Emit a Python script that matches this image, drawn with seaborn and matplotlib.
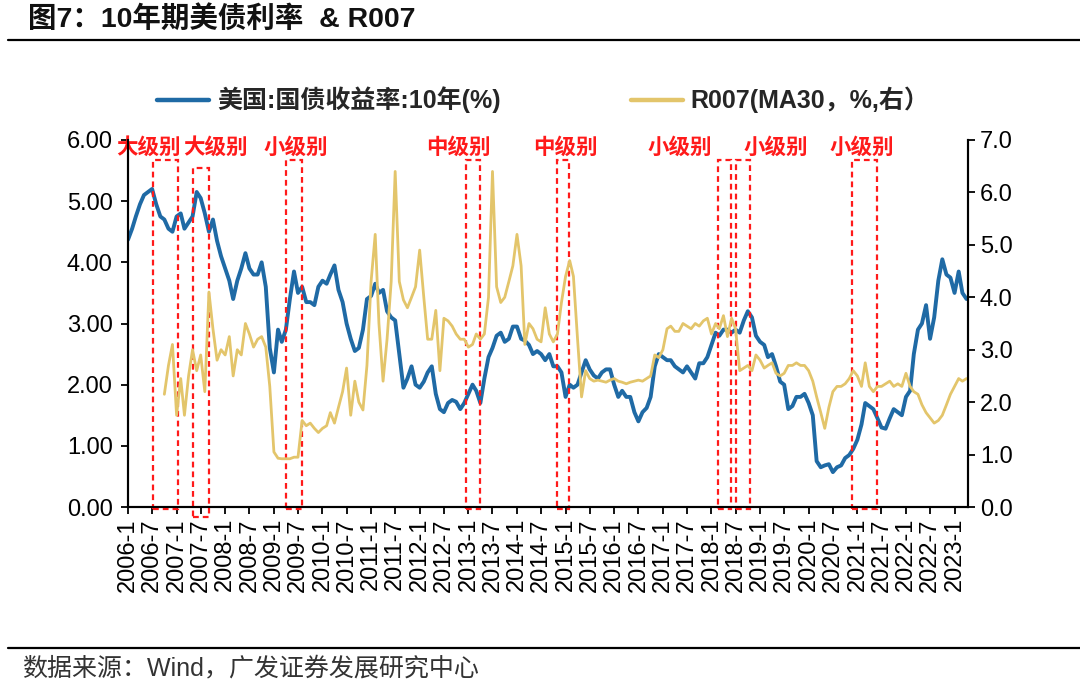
import numpy as np
import pandas as pd
import matplotlib
matplotlib.use("Agg")
import matplotlib.pyplot as plt
import matplotlib.dates as mdates
from matplotlib.patches import Rectangle
from matplotlib.lines import Line2D
import seaborn as sns

# ---------------- data (monthly readings) ----------------
us10y = [
    4.37, 4.55, 4.75, 4.95, 5.10, 5.15, 5.20, 4.95, 4.75, 4.70, 4.55, 4.50,  # 2006
    4.75, 4.80, 4.55, 4.65, 4.75, 5.15, 5.05, 4.80, 4.50, 4.70, 4.35, 4.10,  # 2007
    3.90, 3.70, 3.40, 3.70, 3.90, 4.15, 3.90, 3.80, 3.80, 4.00, 3.60, 2.60,  # 2008
    2.20, 2.90, 2.70, 2.90, 3.40, 3.85, 3.50, 3.60, 3.35, 3.35, 3.30, 3.60,  # 2009
    3.70, 3.65, 3.80, 3.95, 3.55, 3.35, 3.00, 2.75, 2.55, 2.60, 2.90, 3.40,  # 2010
    3.45, 3.65, 3.50, 3.55, 3.20, 3.10, 3.05, 2.50, 1.95, 2.10, 2.30, 2.00,  # 2011
    1.95, 2.05, 2.20, 2.30, 1.85, 1.60, 1.55, 1.70, 1.75, 1.72, 1.60, 1.70,  # 2012
    1.85, 2.00, 1.90, 1.70, 2.10, 2.45, 2.60, 2.80, 2.85, 2.70, 2.75, 2.95,  # 2013
    2.95, 2.75, 2.72, 2.65, 2.50, 2.55, 2.50, 2.40, 2.50, 2.30, 2.30, 2.20,  # 2014
    1.80, 2.00, 1.95, 2.00, 2.20, 2.40, 2.25, 2.15, 2.10, 2.20, 2.25, 2.25,  # 2015
    2.00, 1.80, 1.90, 1.80, 1.80, 1.55, 1.40, 1.55, 1.62, 1.80, 2.30, 2.50,  # 2016
    2.45, 2.40, 2.40, 2.30, 2.25, 2.20, 2.30, 2.20, 2.10, 2.35, 2.35, 2.45,  # 2017
    2.65, 2.85, 2.80, 2.90, 2.90, 2.85, 2.90, 2.85, 3.05, 3.20, 3.10, 2.80,  # 2018
    2.70, 2.65, 2.45, 2.50, 2.30, 2.05, 2.00, 1.60, 1.65, 1.80, 1.80, 1.85,  # 2019
    1.70, 1.50, 0.75, 0.65, 0.68, 0.70, 0.57, 0.65, 0.68, 0.80, 0.85, 0.95,  # 2020
    1.10, 1.35, 1.70, 1.65, 1.60, 1.45, 1.30, 1.28, 1.45, 1.60, 1.55, 1.50,  # 2021
    1.80, 1.90, 2.50, 2.90, 3.00, 3.30, 2.75, 3.10, 3.70, 4.05, 3.80, 3.75,  # 2022
    3.50, 3.85, 3.50, 3.40,                                                  # 2023
]
r007 = [
    2.15, 2.70, 3.10,                                                        # 2006 Q4
    1.75, 2.45, 1.75, 2.50, 3.00, 2.60, 2.90, 2.20, 4.10, 3.40, 2.80, 3.00,  # 2007
    2.90, 3.25, 2.50, 3.00, 2.90, 3.50, 3.30, 3.05, 3.20, 3.25, 3.05, 2.30,  # 2008
    1.05, 0.93, 0.92, 0.92, 0.92, 0.95, 0.95, 1.65, 1.55, 1.60, 1.50, 1.42,  # 2009
    1.50, 1.55, 1.80, 1.60, 1.90, 2.20, 2.65, 1.75, 2.40, 2.00, 1.85, 2.70,  # 2010
    4.30, 5.20, 3.50, 2.40, 3.20, 4.30, 6.40, 4.30, 3.95, 3.80, 4.00, 4.20,  # 2011
    4.90, 4.00, 3.20, 3.20, 3.75, 2.60, 3.60, 3.55, 3.45, 3.30, 3.20, 3.20,  # 2012
    3.05, 3.10, 3.30, 3.20, 3.30, 4.00, 6.40, 4.20, 3.90, 4.00, 4.30, 4.60,  # 2013
    5.20, 4.60, 3.10, 3.50, 3.40, 3.20, 3.15, 3.80, 3.30, 3.15, 3.30, 3.90,  # 2014
    4.40, 4.70, 4.40, 3.20, 2.10, 2.60, 2.45, 2.40, 2.42, 2.40, 2.38, 2.42,  # 2015
    2.45, 2.40, 2.38, 2.35, 2.38, 2.40, 2.42, 2.40, 2.45, 2.50, 2.90, 2.85,  # 2016
    3.00, 3.40, 3.45, 3.35, 3.35, 3.50, 3.45, 3.40, 3.50, 3.45, 3.55, 3.60,  # 2017
    3.30, 3.50, 3.40, 3.65, 3.25, 3.60, 3.40, 2.60, 2.65, 2.70, 2.60, 2.90,  # 2018
    2.80, 2.65, 2.70, 2.75, 2.55, 2.50, 2.55, 2.70, 2.70, 2.75, 2.70, 2.70,  # 2019
    2.60, 2.40, 2.10, 1.80, 1.50, 1.90, 2.20, 2.30, 2.30, 2.35, 2.45, 2.60,  # 2020
    2.50, 2.30, 2.75, 2.30, 2.20, 2.30, 2.30, 2.35, 2.40, 2.30, 2.35, 2.30,  # 2021
    2.55, 2.30, 2.20, 2.15, 1.95, 1.80, 1.70, 1.60, 1.65, 1.75, 1.95, 2.15,  # 2022
    2.30, 2.45, 2.40, 2.45,                                                  # 2023
]
us_start = "2006-01-01"
r_start = "2006-10-01"

box_labels = ["大级别", "大级别", "小级别", "中级别", "中级别", "小级别", "小级别", "小级别"]
box_starts = ["2006-07-07", "2007-05-01", "2009-04-01", "2012-12-15",
              "2014-10-28", "2018-02-21", "2018-07-03", "2020-11-25"]
box_ends = ["2007-01-10", "2007-09-01", "2009-08-01", "2013-03-28",
            "2015-01-28", "2018-05-28", "2018-10-18", "2021-06-01"]
label_dates = ["2006-06-01", "2007-10-20", "2009-06-15", "2012-10-20",
               "2014-12-28", "2017-05-10", "2019-05-01", "2021-02-01"]

legend_us = "美国:国债收益率:10年(%)"
legend_r = "R007(MA30，%,右）"
title = "图7：10年期美债利率  & R007"
source = "数据来源：Wind，广发证券发展研究中心"

# ---------------- build frames ----------------
df_us = pd.DataFrame({"date": pd.date_range(us_start, periods=len(us10y), freq="MS"),
                      "value": us10y})
df_r = pd.DataFrame({"date": pd.date_range(r_start, periods=len(r007), freq="MS"),
                     "value": r007})

sns.set_theme(style="white")
plt.rcParams["font.family"] = ["Liberation Sans", "Noto Sans CJK SC", "DejaVu Sans"]
plt.rcParams["axes.unicode_minus"] = False

BLUE = "#1F6AA5"
GOLD = "#E3C56B"
RED = "#FF1A1A"

fig = plt.figure(figsize=(10.8, 6.9), dpi=100)
ax = fig.add_axes([128 / 1080, 1 - 507 / 690, (968 - 128) / 1080, (507 - 140) / 690])
ax2 = ax.twinx()

sns.lineplot(data=df_us, x="date", y="value", ax=ax, color=BLUE, lw=2.8, legend=False)
sns.lineplot(data=df_r, x="date", y="value", ax=ax2, color=GOLD, lw=2.0, legend=False)

ax.set_ylim(0, 6)
ax2.set_ylim(0, 7)
ax.set_yticks(np.arange(0, 7, 1))
ax2.set_yticks(np.arange(0, 8, 1))
ax.set_yticklabels([f"{v:.2f}" for v in np.arange(0, 7, 1)])
ax2.set_yticklabels([f"{v:.1f}" for v in np.arange(0, 8, 1)])

xmin = pd.Timestamp("2006-01-01")
xmax = pd.Timestamp("2023-04-12")
ax.set_xlim(xmin, xmax)
ticks = pd.date_range("2006-01-01", "2023-01-01", freq="6MS")
ax.set_xticks(ticks)
ax.set_xticklabels([f"{d.year}-{d.month}" for d in ticks], rotation=90)
ax.set_xlabel("")
ax.set_ylabel("")
ax2.set_ylabel("")

for a in (ax, ax2):
    for s in a.spines.values():
        s.set_color("black")
        s.set_linewidth(1.5)
    a.spines["top"].set_visible(False)
    a.grid(False)
ax.tick_params(axis="both", direction="out", length=5, width=1.3, colors="black", labelsize=17,
               left=True, bottom=True)
ax2.tick_params(axis="y", direction="out", length=5, width=1.3, colors="black", labelsize=17, right=True)
ax.tick_params(axis="x", pad=3)
ax.tick_params(axis="y", pad=6)

# red dashed boxes
for i, (s, e) in enumerate(zip(box_starts, box_ends)):
    x0 = mdates.date2num(pd.Timestamp(s))
    x1 = mdates.date2num(pd.Timestamp(e))
    bottom = -0.17 if i == 1 else -0.03
    top = 5.55 if i == 1 else 5.67
    rect = Rectangle((x0, bottom), x1 - x0, top - bottom, fill=False, ec=RED, lw=1.6,
                     ls=(0, (2.6, 1.8)), clip_on=False, zorder=5)
    ax.add_patch(rect)
for lab, d in zip(box_labels, label_dates):
    ax.text(mdates.date2num(pd.Timestamp(d)), 5.88, lab, color=RED, fontsize=15.5,
            fontweight="bold", ha="center", va="center", clip_on=False, zorder=6,
            family=["Noto Sans CJK SC", "DejaVu Sans"])

# legend
h1 = Line2D([], [], color=BLUE, lw=3.2)
h2 = Line2D([], [], color=GOLD, lw=3.2)
fig.legend([h1, h2], [legend_us, legend_r], loc="center", bbox_to_anchor=(0.503, 1 - 100 / 690),
           ncol=2, frameon=False, handlelength=2.1, handletextpad=0.3, columnspacing=5.2,
           prop={"size": 18, "weight": "bold", "family": ["Liberation Sans", "Noto Sans CJK SC"]})

# title & source with rules
fig.text(0.026, 1 - 19 / 690, title, fontsize=20.5, fontweight="bold", va="center", ha="left",
         color="#111111")
fig.add_artist(Line2D([8 / 1080, 1.0], [1 - 40 / 690] * 2, color="black", lw=1.6))
fig.add_artist(Line2D([8 / 1080, 1.0], [1 - 648 / 690] * 2, color="black", lw=1.6))
fig.text(22 / 1080, 1 - 668 / 690, source, fontsize=18, va="center", ha="left", color="#333333")

fig.savefig("out.png", dpi=100)
